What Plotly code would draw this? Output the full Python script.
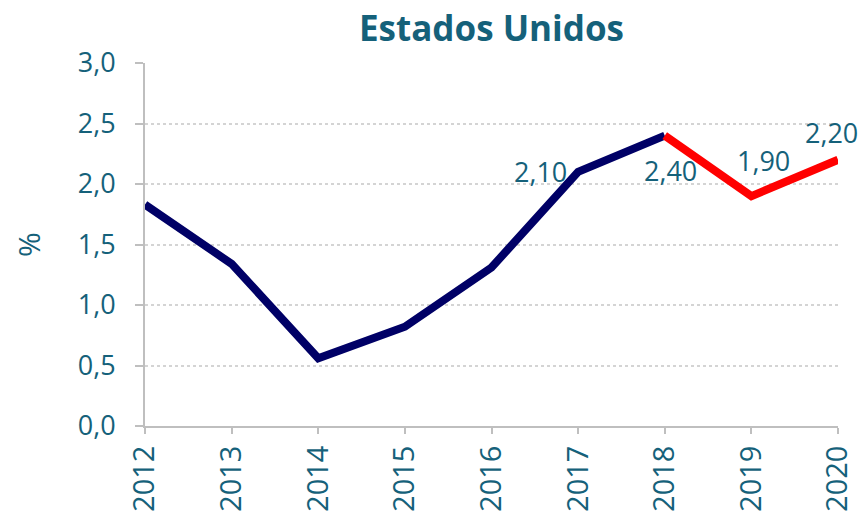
import plotly.graph_objects as go

years = [2012, 2013, 2014, 2015, 2016, 2017, 2018, 2019, 2020]
values = [1.83, 1.34, 0.56, 0.82, 1.31, 2.10, 2.40, 1.90, 2.20]
hist_years = years[:7]
hist_values = values[:7]
proj_years = years[6:]
proj_values = values[6:]
label_years = [2017, 2018, 2019, 2020]
label_values = [2.10, 2.40, 1.90, 2.20]
y_ticks = [0, 0.5, 1.0, 1.5, 2.0, 2.5, 3.0]

TEAL = "#15617a"
FONT = "Open Sans"

fig = go.Figure()
fig.add_trace(go.Scatter(x=hist_years, y=hist_values, mode="lines",
                         line=dict(color="#000066", width=8), cliponaxis=False,
                         showlegend=False, hoverinfo="skip"))
fig.add_trace(go.Scatter(x=proj_years, y=proj_values, mode="lines",
                         line=dict(color="#ff0000", width=8), cliponaxis=False,
                         showlegend=False, hoverinfo="skip"))

shifts = [(-38, 0), (6, -35), (12, 36), (-7, 27)]
for (yr, v), (dx, dy) in zip(zip(label_years, label_values), shifts):
    fig.add_annotation(x=yr, y=v, text=f"{v:.2f}".replace(".", ","),
                       showarrow=False, xanchor="center", yanchor="middle",
                       xshift=dx, yshift=dy,
                       font=dict(family=FONT, size=27, color=TEAL))

fig.update_layout(
    width=861, height=515,
    margin=dict(l=145, r=23, t=63, b=89, autoexpand=False),
    paper_bgcolor="white", plot_bgcolor="white",
    separators=",.",
    title=dict(text="<b>Estados Unidos</b>", x=0.5, xref="paper",
               y=0.945, yanchor="middle", automargin=False,
               font=dict(family=FONT, size=35, color=TEAL)),
    xaxis=dict(range=[2012, 2020], tickmode="array", tickvals=years,
               ticktext=[str(y) for y in years], tickangle=-90,
               showgrid=False, zeroline=False, automargin=False,
               showline=True, linecolor="#bfbfbf", linewidth=2,
               ticks="outside", ticklen=6, tickcolor="#bfbfbf", tickwidth=2,
               tickfont=dict(family=FONT, size=29, color=TEAL)),
    yaxis=dict(range=[0, 3.0], tickmode="array", tickvals=y_ticks,
               tickformat=".1f", automargin=False,
               showgrid=True, gridcolor="#d4d4d4", griddash="dot", gridwidth=1.5,
               zeroline=False, ticklabelstandoff=14,
               showline=True, linecolor="#bfbfbf", linewidth=2,
               ticks="outside", ticklen=8, tickcolor="#bfbfbf", tickwidth=2,
               tickfont=dict(family=FONT, size=27, color=TEAL),
               title=dict(text="%", standoff=28,
                          font=dict(family=FONT, size=30, color=TEAL))),
)

fig.write_html("out.html", config={"displayModeBar": False},
               post_script="document.body.style.margin='0';document.body.style.padding='0';")
